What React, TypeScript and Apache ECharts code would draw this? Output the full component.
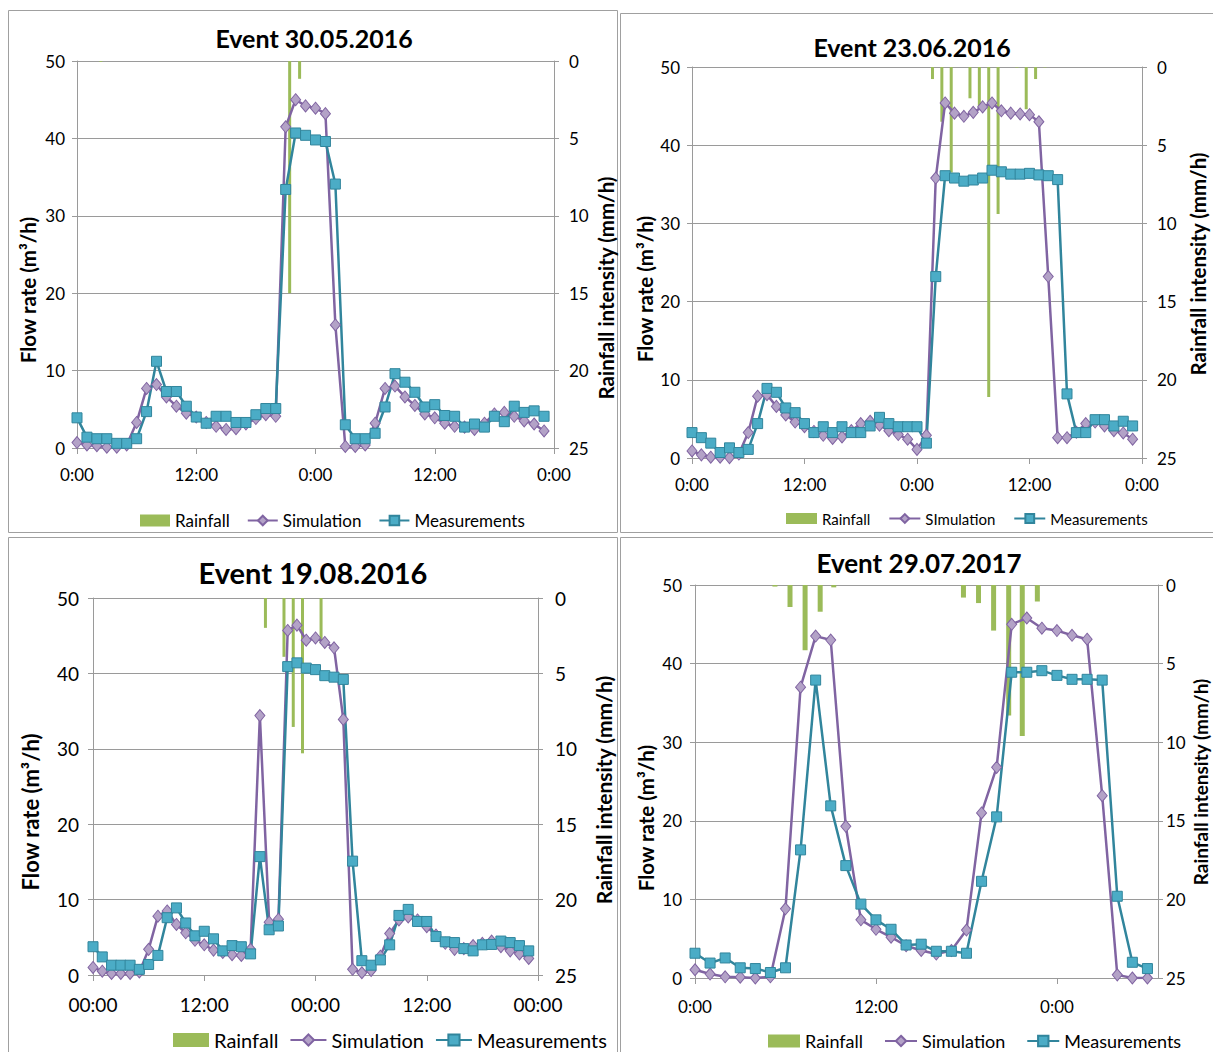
import React, { useEffect, useRef } from "react";
import * as echarts from "echarts";

// ---------- DATA ----------
const p1Title = "Event 30.05.2016";
const p2Title = "Event 23.06.2016";
const p3Title = "Event 19.08.2016";
const p4Title = "Event 29.07.2017";

const p1Sim = [0.7,0.4,0.3,0.1,0.1,0.4,3.3,7.7,8.2,6.6, 5.4,4.5,4.0,3.3,2.8,2.4,2.5,3.1,3.8,4.3, 4.1,41.5,45.0,44.2,43.9,43.2,15.9,0.2,0.2,0.4, 3.2,7.7,8.0,6.6,5.5,4.4,3.9,3.2,2.8,2.7, 2.4,3.2,4.4,4.6,4.1,3.5,3.1,2.2];
const p1Meas = [3.9,1.4,1.2,1.2,0.6,0.6,1.2,4.7,11.2,7.3, 7.3,5.4,4.0,3.2,4.1,4.1,3.3,3.3,4.3,5.1, 5.1,33.4,40.7,40.4,39.8,39.6,34.1,3.0,1.2,1.2, 1.9,5.3,9.6,8.5,7.2,5.3,5.6,4.2,4.1,2.7, 3.1,2.7,4.1,3.4,5.4,4.6,4.8,4.1];
const p1RainHour = [2.4, 21.4, 22.4];
const p1Rain = [0.05, 15, 1.15];

const p2Sim = [0.9,0.4,0.1,0.1,0.05,0.5,3.25,7.9,8.1,6.6, 5.5,4.6,4.0,3.4,2.9,2.5,2.7,3.5,4.4,4.7, 4.2,3.5,3.0,2.4,1.1,2.9,35.8,45.4,44.1,43.7, 44.2,44.9,45.4,44.4,44.1,44.0,43.9,43.0,23.2,2.6, 2.6,3.3,4.4,4.6,4.1,3.5,3.2,2.4];
const p2Meas = [3.25,2.6,1.9,0.7,1.3,0.7,1.1,4.4,8.9,8.4, 6.4,5.8,4.4,3.25,4.0,3.25,4.0,3.25,3.25,4.1, 5.2,4.4,4.0,4.0,4.0,1.9,23.2,36.1,35.8,35.4, 35.55,35.8,36.8,36.6,36.3,36.3,36.4,36.2,36.1,35.6, 8.2,3.25,3.25,4.9,4.9,4.1,4.7,4.1];
const p2RainHour = [25.65,26.65,27.65,29.65,30.65,31.65,32.65,34.65,35.65,36.65,37.65];
const p2Rain = [0.77,3.5,6.75,2.0,2.5,21.1,9.4,0.04,2.7,0.77,0.03];

const p3Sim = [1.0,0.5,0.2,0.2,0.2,0.4,3.4,7.8,8.5,6.7, 5.6,4.6,4.0,3.3,3.0,2.7,2.6,3.4,34.4,7.0, 7.4,45.7,46.4,44.4,44.7,44.1,43.4,33.9,0.75,0.3, 0.6,2.5,5.5,7.3,7.7,7.3,6.4,5.3,4.2,3.4, 3.5,3.9,4.2,4.5,3.75,3.2,2.8,2.2];
const p3Meas = [3.75,2.4,1.3,1.3,1.3,0.75,1.4,2.6,7.6,8.9, 6.9,5.2,5.8,4.8,3.2,3.9,3.75,2.8,15.7,6.0, 6.5,40.9,41.4,40.7,40.5,39.7,39.5,39.2,15.1,1.9, 1.3,2.0,4.0,7.9,8.7,7.1,7.1,5.1,4.4,4.3, 3.5,3.2,4.0,4.05,4.5,4.3,3.9,3.2];
const p3RainHour = [18.6,20.6,21.6,22.6,24.6];
const p3Rain = [1.98,3.9,8.55,10.3,3.0];

const p4Sim = [1.05,0.5,0.15,0.1,0.0,0.15,8.8,37.0,43.5,43.0, 19.3,7.4,6.2,5.2,4.1,3.5,3.05,3.5,6.1,21.0, 26.8,45.0,45.8,44.5,44.2,43.6,43.1,23.2,0.4,0.0, 0.0];
const p4Meas = [3.15,1.9,2.55,1.3,1.2,0.7,1.3,16.3,37.9,21.9, 14.3,9.4,7.4,6.2,4.2,4.3,3.4,3.4,3.15,12.3, 20.5,38.9,38.9,39.1,38.5,38.0,38.0,37.9,10.4,2.0, 1.2];
const p4RainHour = [5.3,6.3,7.3,8.3,9.2,17.8,18.8,19.8,20.8,21.7,22.7];
const p4Rain = [0.1,1.4,4.15,1.7,0.15,0.8,1.15,2.9,8.3,9.6,1.05];

const flowTicks = [0, 10, 20, 30, 40, 50];
const rainTicks = [0, 5, 10, 15, 20, 25];
const timeTicks48 = [0, 12, 24, 36, 48];
const timeTicks30 = [0, 12, 24];

const legendRain = "Rainfall";
const legendSim = "Simulation";
const legendSimP2 = "SImulation";
const legendMeas = "Measurements";
const flowName = "Flow rate (m³/h)";
const rainName = "Rainfall intensity (mm/h)";

// ---------- STYLE ----------
const FONT = "Lato";
const GREEN = "#9BBB59";
const PURPLE = "#8064A2";
const PURPLE_FILL = "#B3A2C7";
const TEAL_LINE = "#31859C";
const TEAL_FILL = "#4BACC6";
const GRID = "#9A9A9A";

type Panel = {
  title: string; titleX: number; titleY: number; titleSize: number;
  left: number; top: number; width: number; height: number;
  xMax: number; xTicks: number[]; pad: boolean;
  sim: number[]; meas: number[]; rainHour: number[]; rain: number[];
  simName: string;
  labelSize: number; xLabelSize: number;
  leftName: [number, number, number]; rightName: [number, number, number];
  leftMargin: number; rightMargin: number; xMargin: number;
  legendLeft: number; legendTop: number; legendSize: number; legendW: number; legendH: number; legendGap: number;
  barWidth: number;
  box: [number, number, number, number];
};

const panels: Panel[] = [
  {
    title: p1Title, titleX: 314, titleY: 38, titleSize: 25,
    left: 77, top: 61, width: 477, height: 387,
    xMax: 48, xTicks: timeTicks48, pad: false,
    sim: p1Sim, meas: p1Meas, rainHour: p1RainHour, rain: p1Rain, simName: legendSim,
    labelSize: 17, xLabelSize: 17,
    leftName: [28, 290, 20.5], rightName: [606, 288, 20.5],
    leftMargin: 12, rightMargin: 15, xMargin: 18,
    legendLeft: 135, legendTop: 507, legendSize: 17, legendW: 30, legendH: 12, legendGap: 17,
    barWidth: 3,
    box: [8, 10, 609, 522],
  },
  {
    title: p2Title, titleX: 912, titleY: 47, titleSize: 25,
    left: 692, top: 67, width: 450, height: 391,
    xMax: 48, xTicks: timeTicks48, pad: false,
    sim: p2Sim, meas: p2Meas, rainHour: p2RainHour, rain: p2Rain, simName: legendSimP2,
    labelSize: 17, xLabelSize: 17,
    leftName: [645, 289, 20.5], rightName: [1198, 264, 20.5],
    leftMargin: 12, rightMargin: 15, xMargin: 18,
    legendLeft: 781, legendTop: 506, legendSize: 15, legendW: 31, legendH: 11, legendGap: 18,
    barWidth: 3,
    box: [620, 13, 600, 519],
  },
  {
    title: p3Title, titleX: 313, titleY: 572, titleSize: 29,
    left: 93, top: 598, width: 445, height: 377,
    xMax: 48, xTicks: timeTicks48, pad: true,
    sim: p3Sim, meas: p3Meas, rainHour: p3RainHour, rain: p3Rain, simName: legendSim,
    labelSize: 19, xLabelSize: 19,
    leftName: [30, 812, 22], rightName: [603, 790, 21],
    leftMargin: 14, rightMargin: 17, xMargin: 20,
    legendLeft: 168, legendTop: 1025, legendSize: 20, legendW: 36, legendH: 14, legendGap: 11,
    barWidth: 3,
    box: [8, 537, 609, 520],
  },
  {
    title: p4Title, titleX: 919, titleY: 563, titleSize: 26,
    left: 695, top: 585, width: 463, height: 393,
    xMax: 30.7, xTicks: timeTicks30, pad: false,
    sim: p4Sim, meas: p4Meas, rainHour: p4RainHour, rain: p4Rain, simName: legendSim,
    labelSize: 17, xLabelSize: 17,
    leftName: [646, 818, 20.5], rightName: [1200, 782, 19],
    leftMargin: 13, rightMargin: 8, xMargin: 20,
    legendLeft: 763, legendTop: 1027, legendSize: 18, legendW: 32, legendH: 13, legendGap: 21,
    barWidth: 5,
    box: [620, 537, 600, 520],
  },
];

function buildOption() {
  const grid: any[] = [];
  const xAxis: any[] = [];
  const yAxis: any[] = [];
  const series: any[] = [];
  const legend: any[] = [];
  const graphic: any[] = [];

  panels.forEach((p, i) => {
    graphic.push({
      type: "rect", silent: true, z: -10,
      shape: { x: p.box[0] + 0.5, y: p.box[1] + 0.5, width: p.box[2], height: p.box[3] },
      style: { fill: "#fff", stroke: "#A0A0A0", lineWidth: 1 },
    });
    graphic.push({
      type: "text", silent: true, z: 10,
      x: p.titleX, y: p.titleY,
      style: {
        text: p.title, fill: "#000", font: `bold ${p.titleSize}px ${FONT}`,
        textAlign: "center", textVerticalAlign: "middle",
      },
    });
    graphic.push({
      type: "text", silent: true, z: 10,
      x: p.leftName[0], y: p.leftName[1], rotation: Math.PI / 2,
      style: {
        text: flowName, fill: "#000", font: `bold ${p.leftName[2]}px ${FONT}`,
        textAlign: "center", textVerticalAlign: "middle",
      },
    });
    graphic.push({
      type: "text", silent: true, z: 10,
      x: p.rightName[0], y: p.rightName[1], rotation: Math.PI / 2,
      style: {
        text: rainName, fill: "#000", font: `bold ${p.rightName[2]}px ${FONT}`,
        textAlign: "center", textVerticalAlign: "middle",
      },
    });

    grid.push({ left: p.left, top: p.top, width: p.width, height: p.height, containLabel: false });

    xAxis.push({
      type: "value", gridIndex: i, min: 0, max: p.xMax,
      axisLine: { show: true, onZero: false, lineStyle: { color: GRID, width: 1 } },
      axisTick: { show: true, length: 6, customValues: p.xTicks, lineStyle: { color: GRID } },
      splitLine: { show: false },
      axisLabel: {
        customValues: p.xTicks, color: "#000", fontSize: p.xLabelSize, fontFamily: FONT, margin: p.xMargin,
        formatter: (v: number) => {
          const h = Math.round(v) % 24;
          return (p.pad && h < 10 ? "0" + h : String(h)) + ":00";
        },
      },
    });

    yAxis.push({
      type: "value", gridIndex: i, position: "left", min: flowTicks[0], max: flowTicks[flowTicks.length - 1], interval: 10,
      axisLine: { show: true, lineStyle: { color: GRID } },
      axisTick: { show: true, length: 5, lineStyle: { color: GRID } },
      splitLine: { show: true, lineStyle: { color: GRID, width: 1 } },
      axisLabel: { color: "#000", fontSize: p.labelSize, fontFamily: FONT, margin: p.leftMargin },
    });
    yAxis.push({
      type: "value", gridIndex: i, position: "right", min: rainTicks[0], max: rainTicks[rainTicks.length - 1], interval: 5, inverse: true,
      axisLine: { show: true, lineStyle: { color: GRID } },
      axisTick: { show: true, length: 5, lineStyle: { color: GRID } },
      splitLine: { show: false },
      axisLabel: { color: "#000", fontSize: p.labelSize, fontFamily: FONT, margin: p.rightMargin },
    });

    series.push({
      type: "bar", name: legendRain, xAxisIndex: i, yAxisIndex: 2 * i + 1,
      barWidth: p.barWidth, itemStyle: { color: GREEN },
      data: p.rainHour.map((h, k) => [h, p.rain[k]]),
    });
    series.push({
      type: "line", name: p.simName, xAxisIndex: i, yAxisIndex: 2 * i,
      symbol: "diamond", symbolSize: [10, 12],
      lineStyle: { color: PURPLE, width: 2.5 },
      itemStyle: { color: PURPLE_FILL, borderColor: PURPLE, borderWidth: 1 },
      data: p.sim.map((v, k) => [k, v]),
    });
    series.push({
      type: "line", name: legendMeas, xAxisIndex: i, yAxisIndex: 2 * i,
      symbol: "rect", symbolSize: 10,
      lineStyle: { color: TEAL_LINE, width: 2.5 },
      itemStyle: { color: TEAL_FILL, borderColor: TEAL_LINE, borderWidth: 1 },
      data: p.meas.map((v, k) => [k, v]),
    });

    legend.push({
      left: p.legendLeft, top: p.legendTop, orient: "horizontal",
      itemWidth: p.legendW, itemHeight: p.legendH, itemGap: p.legendGap,
      selectedMode: false,
      textStyle: { fontSize: p.legendSize, fontFamily: FONT, color: "#000" },
      data: [{ name: legendRain, icon: "rect" }, p.simName, legendMeas],
    });
  });

  return {
    animation: false,
    backgroundColor: "#fff",
    textStyle: { fontFamily: FONT },
    grid, xAxis, yAxis, series, legend, graphic,
  };
}

export default function App() {
  const ref = useRef<HTMLDivElement>(null);
  useEffect(() => {
    if (!ref.current) return;
    const chart = echarts.init(ref.current, undefined, { renderer: "svg" });
    chart.setOption(buildOption() as any);
    return () => chart.dispose();
  }, []);
  return (
    <div
      ref={ref}
      style={{ position: "absolute", left: 0, top: 0, width: 1213, height: 1052, background: "#fff" }}
    />
  );
}
